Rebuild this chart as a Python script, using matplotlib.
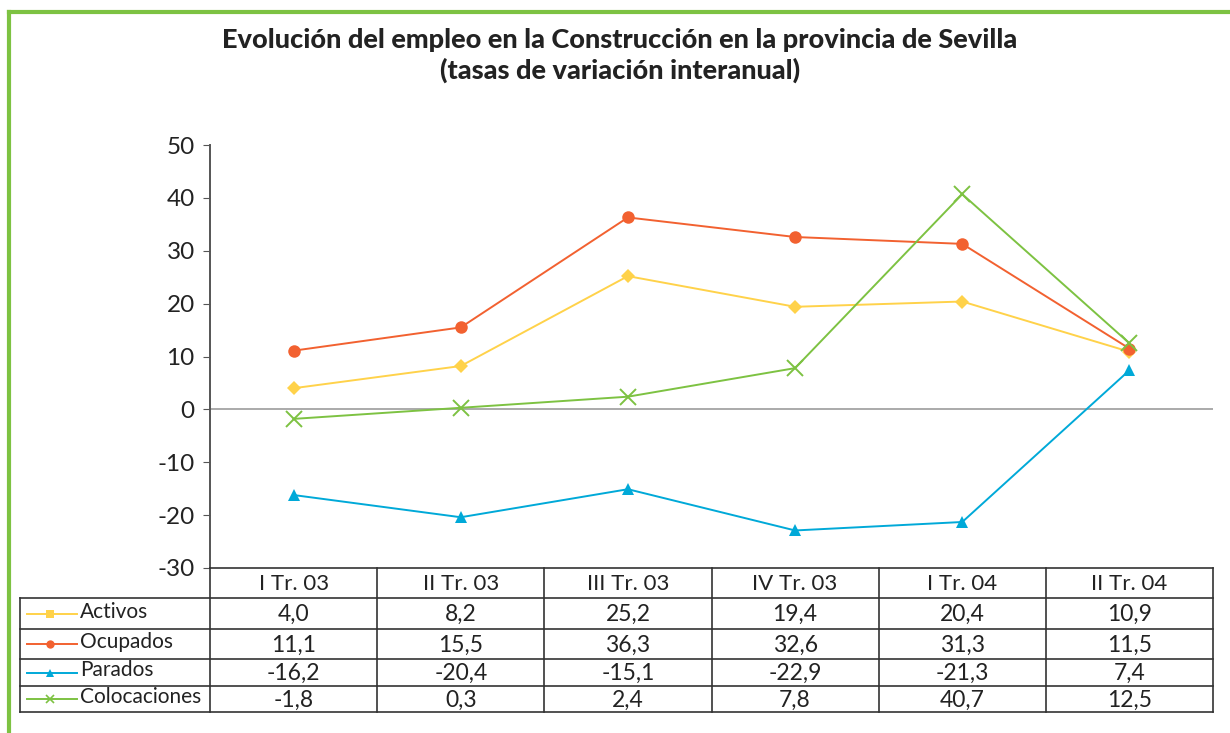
import matplotlib.pyplot as plt
from matplotlib.lines import Line2D

plt.rcParams['font.family'] = ['Lato', 'DejaVu Sans']
plt.rcParams['axes.unicode_minus'] = False

periods = ['I Tr. 03', 'II Tr. 03', 'III Tr. 03', 'IV Tr. 03', 'I Tr. 04', 'II Tr. 04']
series = ['Activos', 'Ocupados', 'Parados', 'Colocaciones']
activos = [4.0, 8.2, 25.2, 19.4, 20.4, 10.9]
ocupados = [11.1, 15.5, 36.3, 32.6, 31.3, 11.5]
parados = [-16.2, -20.4, -15.1, -22.9, -21.3, 7.4]
colocaciones = [-1.8, 0.3, 2.4, 7.8, 40.7, 12.5]
values = [activos, ocupados, parados, colocaciones]

colors = ['#FFD24A', '#F26130', '#00A9D8', '#7DC242']
markers = ['D', 'o', '^', 'x']
legend_markers = ['s', 'o', '^', 'x']
msizes = [7, 9, 9, 11]

W, H = 1230, 733
fig = plt.figure(figsize=(W / 100, H / 100), dpi=100)

def fx(px):
    return px / W

def fy(py):
    return 1 - py / H

# green frame (open to the right / bottom)
fig.add_artist(Line2D([fx(9), fx(9)], [fy(12), 0], color='#7DC242', lw=3))
fig.add_artist(Line2D([fx(9), 1], [fy(12), fy(12)], color='#7DC242', lw=3))

fig.text(fx(620), fy(40), 'Evolución del empleo en la Construcción en la provincia de Sevilla',
         ha='center', va='center', fontsize=19.5, fontweight='black', color='#222222')
fig.text(fx(620), fy(70), '(tasas de variación interanual)',
         ha='center', va='center', fontsize=19.5, fontweight='black', color='#222222')

left, right, top, bottom = 210, 1213, 145, 568
ax = fig.add_axes([fx(left), fy(bottom), fx(right - left), (bottom - top) / H])
x = list(range(len(periods)))
for vals, c, m, ms in zip(values, colors, markers, msizes):
    ax.plot(x, vals, color=c, lw=1.4, marker=m, markersize=ms,
            markeredgewidth=1.4 if m == 'x' else 0, markeredgecolor=c)
ax.axhline(0, color='#aaaaaa', lw=1.4, zorder=0)
ax.set_xlim(-0.5, len(periods) - 0.5)
ax.set_ylim(-30, 50)
ax.set_yticks(range(-30, 51, 10))
ax.set_xticks([])
for s in ['top', 'right', 'bottom']:
    ax.spines[s].set_visible(False)
ax.spines['left'].set_color('#555555')
ax.spines['left'].set_linewidth(1.4)
ax.tick_params(axis='y', direction='out', length=5, color='#555555', labelsize=17.5,
               labelcolor='#222222', pad=6)

# data table below the plot
row_y = [568, 598, 629, 659, 686, 712]
col_x = [left + i * (right - left) / 6 for i in range(7)]
lab_left = 20
lc = '#333333'
fig.add_artist(Line2D([fx(left), fx(right)], [fy(row_y[0])] * 2, color=lc, lw=1.2))
for yy in row_y[1:]:
    fig.add_artist(Line2D([fx(lab_left), fx(right)], [fy(yy)] * 2, color=lc, lw=1.2))
for xx in col_x:
    fig.add_artist(Line2D([fx(xx)] * 2, [fy(row_y[0]), fy(row_y[-1])], color=lc, lw=1.2))
fig.add_artist(Line2D([fx(lab_left)] * 2, [fy(row_y[1]), fy(row_y[-1])], color=lc, lw=1.2))

for i, p in enumerate(periods):
    cx = (col_x[i] + col_x[i + 1]) / 2
    fig.text(fx(cx), fy((row_y[0] + row_y[1]) / 2 + 1), p, ha='center', va='center',
             fontsize=16, color='#222222')

for r, (name, vals, c, lm) in enumerate(zip(series, values, colors, legend_markers)):
    cy = (row_y[r + 1] + row_y[r + 2]) / 2
    fig.add_artist(Line2D([fx(27), fx(77)], [fy(cy)] * 2, color=c, lw=1.4, marker=None))
    fig.add_artist(Line2D([fx(50)], [fy(cy)], color=c, marker=lm, markersize=6,
                          markeredgewidth=1.2 if lm == 'x' else 0, markeredgecolor=c))
    fig.text(fx(80), fy(cy - 2), name, ha='left', va='center', fontsize=15, color='#222222')
    for i, v in enumerate(vals):
        cx = (col_x[i] + col_x[i + 1]) / 2
        fig.text(fx(cx), fy(cy + 1), f'{v:.1f}'.replace('.', ','), ha='center', va='center',
                 fontsize=16.5, color='#222222')

fig.savefig('out.png', dpi=100)
